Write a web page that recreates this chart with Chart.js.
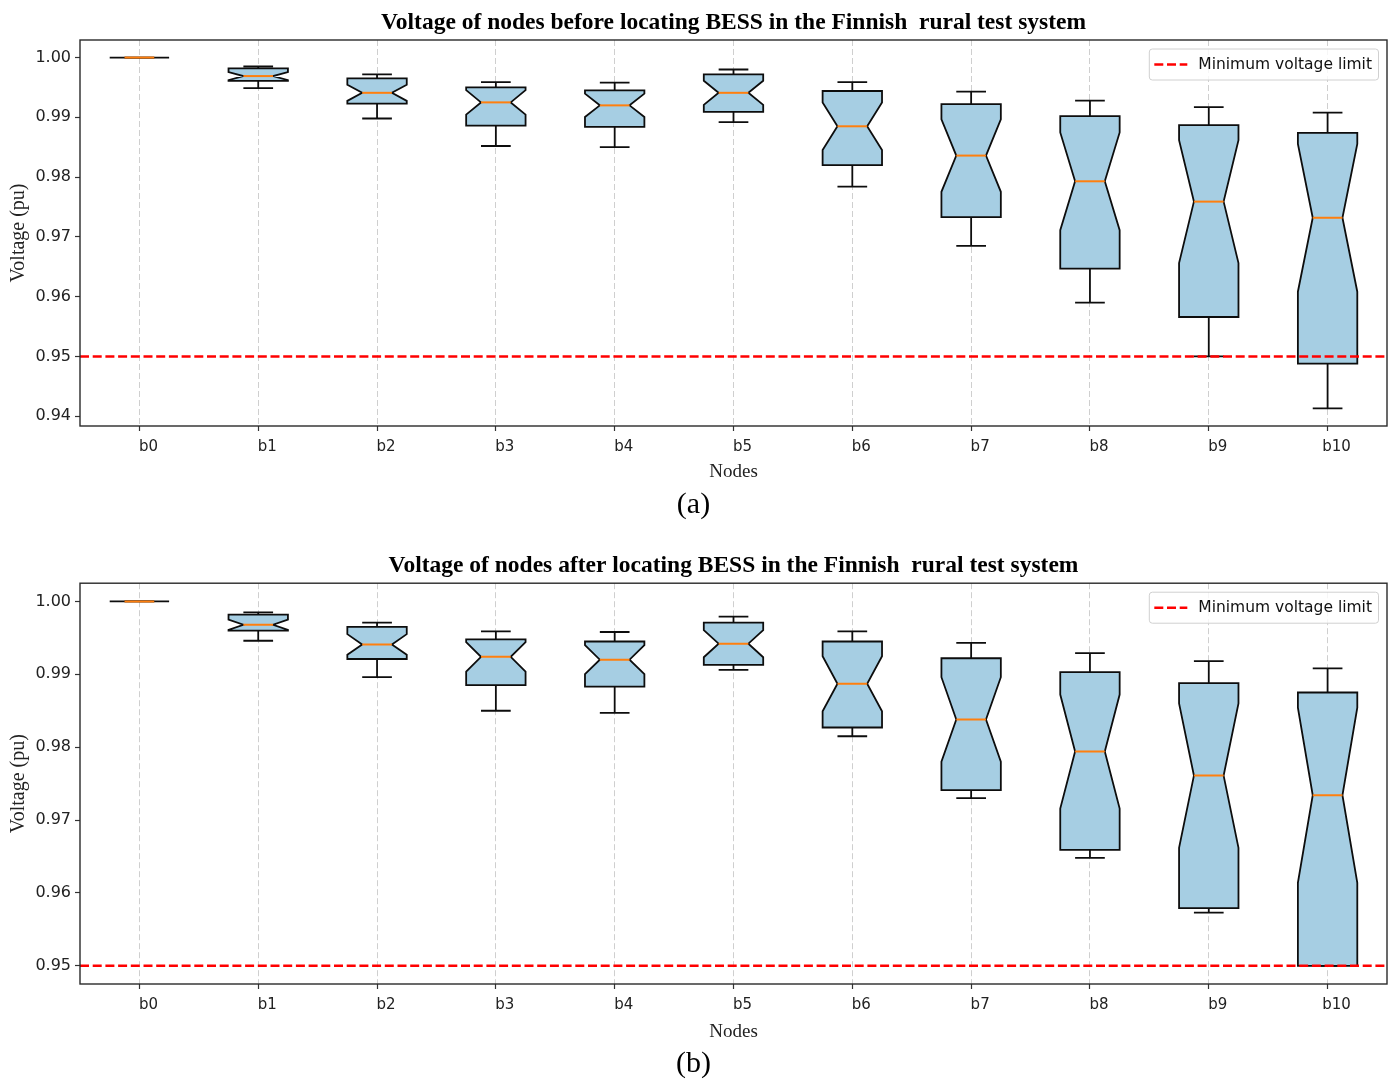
<!DOCTYPE html>
<html>
<head>
<meta charset="utf-8">
<title>Voltage of nodes - Finnish rural test system</title>
<script src="https://cdn.jsdelivr.net/npm/chart.js@4.4.0/dist/chart.umd.min.js"></script>
<style>
  html, body { margin: 0; padding: 0; background: #ffffff; }
  #wrap { position: relative; width: 1397px; height: 1084px; }
  .panel { position: absolute; left: 0; width: 1397px; }
  #panelA { top: 0; height: 530px; }
  #panelB { top: 530px; height: 554px; }
  canvas { display: block; }
</style>
</head>
<body>
<div id="wrap">
  <div class="panel" id="panelA"><canvas id="chartA" width="1397" height="530"></canvas></div>
  <div class="panel" id="panelB"><canvas id="chartB" width="1397" height="554"></canvas></div>
</div>
<script>
// ---- data -------------------------------------------------------------
const nodes = ['b0', 'b1', 'b2', 'b3', 'b4', 'b5', 'b6', 'b7', 'b8', 'b9', 'b10'];

const titleA = 'Voltage of nodes before locating BESS in the Finnish  rural test system';
const titleB = 'Voltage of nodes after locating BESS in the Finnish  rural test system';

// (a) before BESS
const whiskerLowA  = [1.0000, 0.9949, 0.9898, 0.9852, 0.9850, 0.9892, 0.9784, 0.9685, 0.9590, 0.9500, 0.9413];
const q1A          = [1.0000, 0.9961, 0.9923, 0.9886, 0.9884, 0.9909, 0.9820, 0.9733, 0.9647, 0.9566, 0.9488];
const medianA      = [1.0000, 0.9969, 0.9941, 0.9925, 0.9920, 0.9941, 0.9885, 0.9836, 0.9793, 0.9759, 0.9732];
const q3A          = [1.0000, 0.9982, 0.9965, 0.9950, 0.9945, 0.9972, 0.9944, 0.9922, 0.9902, 0.9887, 0.9874];
const whiskerHighA = [1.0000, 0.9985, 0.9972, 0.9959, 0.9958, 0.9980, 0.9959, 0.9943, 0.9928, 0.9917, 0.9908];

// (b) after BESS
const whiskerLowB  = [1.0000, 0.9946, 0.9896, 0.9850, 0.9847, 0.9906, 0.9815, 0.9730, 0.9648, 0.9573, 0.9500];
const q1B          = [1.0000, 0.9960, 0.9921, 0.9885, 0.9883, 0.9913, 0.9827, 0.9741, 0.9659, 0.9579, 0.9500];
const medianB      = [1.0000, 0.9968, 0.9941, 0.9924, 0.9920, 0.9942, 0.9887, 0.9838, 0.9794, 0.9761, 0.9734];
const q3B          = [1.0000, 0.9982, 0.9965, 0.9948, 0.9945, 0.9971, 0.9945, 0.9922, 0.9903, 0.9888, 0.9875];
const whiskerHighB = [1.0000, 0.9985, 0.9971, 0.9959, 0.9958, 0.9979, 0.9959, 0.9943, 0.9929, 0.9918, 0.9908];

const yTicksA = [0.94, 0.95, 0.96, 0.97, 0.98, 0.99, 1.00];
const yTicksB = [0.95, 0.96, 0.97, 0.98, 0.99, 1.00];

const voltageLimit = 0.95;
const limitLabel = 'Minimum voltage limit';
const samplesPerNode = 24;   // hourly samples behind each box (sets notch size)

// ---- styles -----------------------------------------------------------
const BOX_FILL = '#a6cee3';
const MEDIAN_COLOR = '#ff7f0e';
const LIMIT_COLOR = '#ff0000';
const LIMIT_DASH = [9, 3.7];
const SANS = 'DejaVu Sans';
const SERIF = 'Liberation Serif';

// Notched box-and-whisker marks, the limit line, the axes frame and legend,
// all placed through the chart's own x/y scales.
const notchedBoxPlugin = {
  id: 'notchedBoxes',
  afterDatasetsDraw(chart, args, opts) {
    const { ctx, chartArea: area } = chart;
    const x = chart.scales.x, y = chart.scales.y;
    const s = opts.stats;
    const step = x.getPixelForValue(1) - x.getPixelForValue(0);
    const boxW = step * 0.5, capW = boxW * 0.5;

    ctx.save();
    ctx.beginPath();
    ctx.rect(area.left, area.top, area.right - area.left, area.bottom - area.top);
    ctx.clip();

    for (let i = 0; i < s.median.length; i++) {
      const cx = x.getPixelForValue(i);
      const notch = 1.57 * (s.q3[i] - s.q1[i]) / Math.sqrt(opts.sampleCount);
      const pLow = y.getPixelForValue(s.low[i]);
      const pHigh = y.getPixelForValue(s.high[i]);
      const pQ1 = y.getPixelForValue(s.q1[i]);
      const pQ3 = y.getPixelForValue(s.q3[i]);
      const pMed = y.getPixelForValue(s.median[i]);
      const pCiLo = y.getPixelForValue(s.median[i] - notch);
      const pCiHi = y.getPixelForValue(s.median[i] + notch);
      const bl = cx - boxW / 2, br = cx + boxW / 2;
      const cl = cx - capW / 2, cr = cx + capW / 2;

      ctx.lineWidth = 1.8;
      ctx.strokeStyle = '#0d0d0d';
      ctx.lineJoin = 'miter';
      ctx.setLineDash([]);

      // whiskers and caps
      ctx.beginPath();
      ctx.moveTo(cx, pQ1); ctx.lineTo(cx, pLow);
      ctx.moveTo(cx, pQ3); ctx.lineTo(cx, pHigh);
      ctx.moveTo(cl, pLow); ctx.lineTo(cr, pLow);
      ctx.moveTo(cl, pHigh); ctx.lineTo(cr, pHigh);
      ctx.stroke();

      // notched box outline
      ctx.beginPath();
      ctx.moveTo(bl, pQ1);
      ctx.lineTo(br, pQ1);
      ctx.lineTo(br, pCiLo);
      ctx.lineTo(cr, pMed);
      ctx.lineTo(br, pCiHi);
      ctx.lineTo(br, pQ3);
      ctx.lineTo(bl, pQ3);
      ctx.lineTo(bl, pCiHi);
      ctx.lineTo(cl, pMed);
      ctx.lineTo(bl, pCiLo);
      ctx.closePath();
      ctx.fillStyle = opts.fill;
      ctx.fill();
      ctx.stroke();

      // median
      ctx.beginPath();
      ctx.strokeStyle = opts.medianColor;
      ctx.lineWidth = 2;
      ctx.moveTo(cl, pMed); ctx.lineTo(cr, pMed);
      ctx.stroke();
    }

    // minimum voltage limit
    const pLim = y.getPixelForValue(opts.limit);
    ctx.beginPath();
    ctx.strokeStyle = LIMIT_COLOR;
    ctx.lineWidth = 2.6;
    ctx.setLineDash(LIMIT_DASH);
    ctx.moveTo(area.left, pLim);
    ctx.lineTo(area.right, pLim);
    ctx.stroke();
    ctx.restore();

    // axes frame
    ctx.save();
    ctx.strokeStyle = '#2a2a2a';
    ctx.lineWidth = 1.4;
    ctx.strokeRect(area.left, area.top, area.right - area.left, area.bottom - area.top);

    // legend
    ctx.font = '15.5px "' + SANS + '"';
    const textW = ctx.measureText(opts.limitLabel).width;
    const padL = 5, lineLen = 33, gap = 11, padR = 6.5, h = 31;
    const w = padL + lineLen + gap + textW + padR;
    const lx = area.right - 8.5 - w, ly = area.top + 9;
    ctx.beginPath();
    if (ctx.roundRect) ctx.roundRect(lx, ly, w, h, 3); else ctx.rect(lx, ly, w, h);
    ctx.fillStyle = 'rgba(255,255,255,0.8)';
    ctx.fill();
    ctx.strokeStyle = '#d0d0d0';
    ctx.lineWidth = 1;
    ctx.stroke();
    const my = ly + h / 2;
    ctx.beginPath();
    ctx.strokeStyle = LIMIT_COLOR;
    ctx.lineWidth = 2.6;
    ctx.setLineDash(LIMIT_DASH);
    ctx.moveTo(lx + padL, my);
    ctx.lineTo(lx + padL + lineLen, my);
    ctx.stroke();
    ctx.setLineDash([]);
    ctx.fillStyle = '#111';
    ctx.textBaseline = 'middle';
    ctx.textAlign = 'left';
    ctx.fillText(opts.limitLabel, lx + padL + lineLen + gap, my);
    ctx.restore();
  }
};

function yRange(lows, highs) {
  const lo = Math.min(...lows), hi = Math.max(...highs);
  const pad = 0.05 * (hi - lo);
  return [lo - pad, hi + pad];
}

function makeChart(canvasId, cfg) {
  const [yMin, yMax] = yRange(cfg.stats.low, cfg.stats.high);
  return new Chart(document.getElementById(canvasId), {
    type: 'bar',
    data: { labels: nodes, datasets: [] },
    plugins: [notchedBoxPlugin],
    options: {
      responsive: false,
      animation: false,
      devicePixelRatio: 1,
      layout: { padding: { left: 0, right: 10, top: 0, bottom: 0 } },
      plugins: {
        legend: { display: false },
        tooltip: { enabled: false },
        title: {
          display: true,
          text: cfg.title,
          fullSize: false,
          color: '#000',
          font: { family: SERIF, size: 23.5, weight: 'bold' },
          padding: cfg.titlePadding
        },
        subtitle: {
          display: true,
          text: cfg.caption,
          position: 'bottom',
          color: '#000',
          font: { family: SERIF, size: 30, weight: 'normal' },
          padding: cfg.captionPadding
        },
        notchedBoxes: {
          stats: cfg.stats,
          sampleCount: samplesPerNode,
          fill: BOX_FILL,
          medianColor: MEDIAN_COLOR,
          limit: voltageLimit,
          limitLabel: limitLabel
        }
      },
      scales: {
        x: {
          type: 'category',
          offset: true,
          grid: {
            offset: false,
            color: '#cfcfcf',
            lineWidth: 1,
            drawTicks: true,
            tickLength: 5,
            tickColor: '#333',
            tickWidth: 1.2
          },
          border: { display: false, dash: [6, 3] },
          ticks: {
            font: { family: SANS, size: 15 },
            color: '#222',
            padding: 7,
            labelOffset: 9,
            maxRotation: 0,
            autoSkip: false
          },
          title: {
            display: true,
            text: 'Nodes',
            color: '#222',
            font: { family: SERIF, size: 19 },
            padding: { top: 0, bottom: 2 }
          },
          afterFit(scale) { scale.height = cfg.xAxisHeight; }
        },
        y: {
          type: 'linear',
          min: yMin,
          max: yMax,
          afterBuildTicks(scale) { scale.ticks = cfg.yTicks.map(v => ({ value: v })); },
          grid: {
            drawOnChartArea: false,
            drawTicks: true,
            tickLength: 5,
            tickColor: '#333',
            tickWidth: 1.2
          },
          border: { display: false },
          ticks: {
            font: { family: SANS, size: 16 },
            color: '#222',
            padding: 4,
            callback: v => Number(v).toFixed(2)
          },
          title: {
            display: true,
            text: 'Voltage (pu)',
            color: '#222',
            font: { family: SERIF, size: 20 },
            padding: { top: 7, bottom: 0 }
          },
          afterFit(scale) { scale.width = 80; }
        }
      }
    }
  });
}

makeChart('chartA', {
  title: titleA,
  caption: '(a)',
  titlePadding: { top: 8.8, bottom: 3 },
  captionPadding: { top: 2, bottom: 7 },
  xAxisHeight: 59,
  yTicks: yTicksA,
  stats: { low: whiskerLowA, q1: q1A, median: medianA, q3: q3A, high: whiskerHighA }
});

makeChart('chartB', {
  title: titleB,
  caption: '(b)',
  titlePadding: { top: 22, bottom: 3 },
  captionPadding: { top: 1, bottom: 2 },
  xAxisHeight: 61,
  yTicks: yTicksB,
  stats: { low: whiskerLowB, q1: q1B, median: medianB, q3: q3B, high: whiskerHighB }
});
</script>
</body>
</html>
